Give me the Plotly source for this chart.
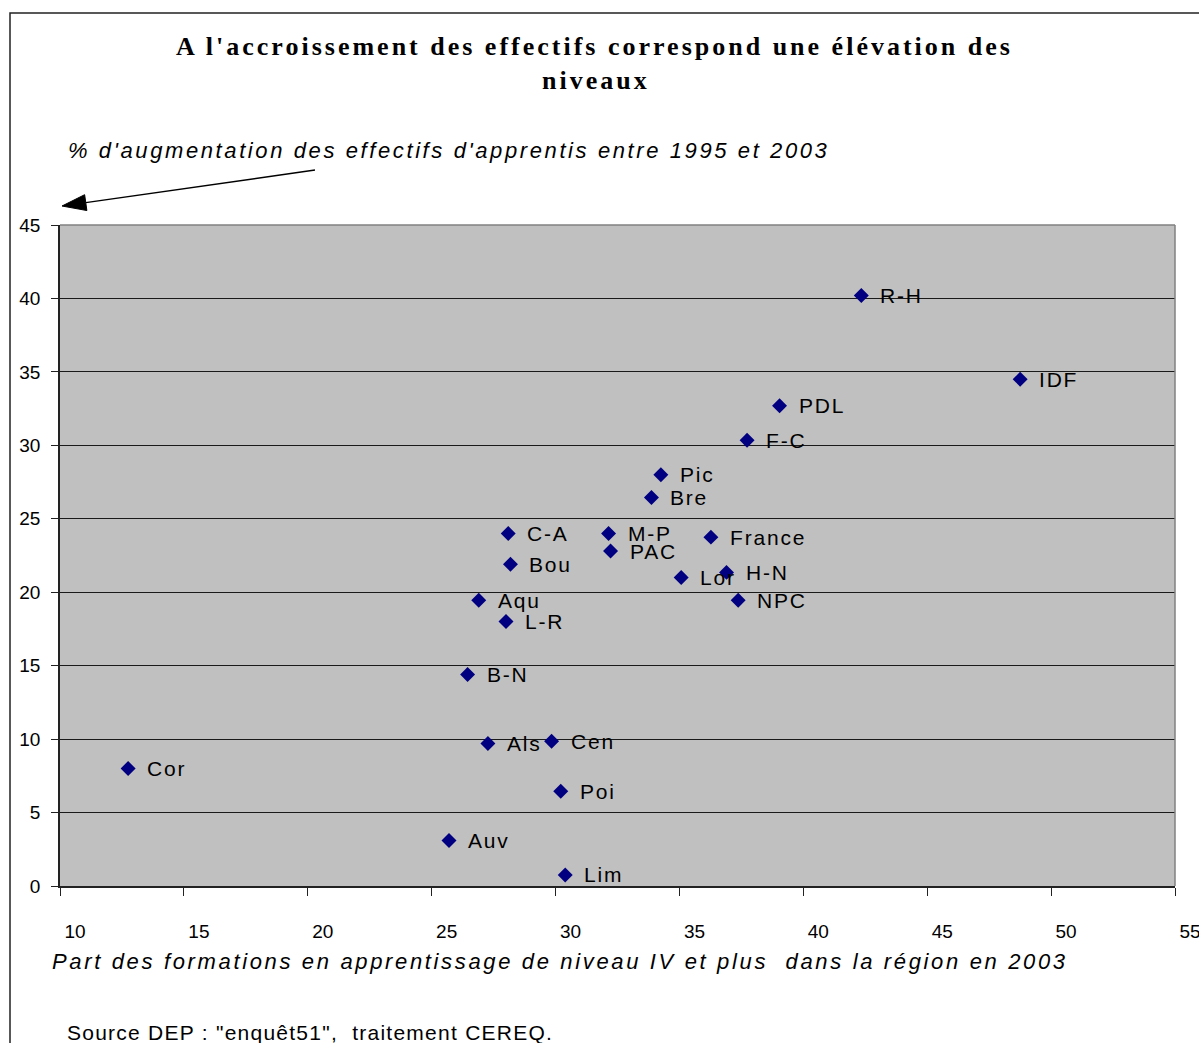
import plotly.graph_objects as go

# Regional apprenticeship data
regions = ["Cor", "Auv", "B-N", "Als", "Aqu", "L-R", "C-A", "Bou", "Cen", "Poi",
           "Lim", "M-P", "PAC", "Bre", "Pic", "Lor", "France", "H-N", "NPC",
           "F-C", "PDL", "R-H", "IDF"]
share_level_iv = [12.75, 25.7, 26.45, 27.27, 26.9, 28.0, 28.09, 28.18, 29.84, 30.21,
                  30.39, 32.14, 32.22, 33.87, 34.25, 35.07, 36.27, 36.9, 37.37,
                  37.73, 39.04, 42.34, 48.75]
growth_pct = [8.0, 3.1, 14.4, 9.7, 19.45, 18.0, 24.0, 21.9, 9.85, 6.45,
              0.75, 24.0, 22.8, 26.45, 28.0, 21.0, 23.75, 21.35, 19.45,
              30.35, 32.7, 40.2, 34.5]
x_ticks = [10, 15, 20, 25, 30, 35, 40, 45, 50, 55]
y_ticks = [0, 5, 10, 15, 20, 25, 30, 35, 40, 45]

W, H = 1199, 1043
L, T, PW, PH = 60, 225, 1115, 661
B, R = H - T - PH, W - L - PW

SANS = "Liberation Sans, Arial, sans-serif"
SERIF = "Liberation Serif, Times New Roman, serif"


def px_x(p):
    return (p - L) / PW


def px_y(p):
    return (T + PH - p) / PH


def spaced(text, ls):
    return f'<span style="letter-spacing:{ls}px">{text}</span>'


fig = go.Figure()
fig.add_trace(go.Scatter(
    x=share_level_iv, y=growth_pct, mode="markers",
    marker=dict(symbol="diamond", size=11.5, color="#000080",
                line=dict(width=0)),
    hoverinfo="skip", showlegend=False,
))

annotations = []
for name, xv, yv in zip(regions, share_level_iv, growth_pct):
    annotations.append(dict(
        x=xv, y=yv, xref="x", yref="y", text=spaced(name, 1.8),
        xanchor="left", yanchor="middle", xshift=17, showarrow=False,
        font=dict(family=SANS, size=21, color="black"),
    ))

# Title (two lines)
annotations.append(dict(
    x=px_x(594), y=px_y(46), xref="paper", yref="paper",
    text="<b>" + spaced("A l'accroissement des effectifs correspond une élévation des", 3.0) + "</b>",
    xanchor="center", yanchor="middle", showarrow=False,
    font=dict(family=SERIF, size=26, color="black"),
))
annotations.append(dict(
    x=px_x(596), y=px_y(80), xref="paper", yref="paper",
    text="<b>" + spaced("niveaux", 3.0) + "</b>",
    xanchor="center", yanchor="middle", showarrow=False,
    font=dict(family=SERIF, size=26, color="black"),
))
# Axis captions
annotations.append(dict(
    x=px_x(66), y=px_y(150), xref="paper", yref="paper",
    text="<i>" + spaced("% d'augmentation des effectifs d'apprentis entre 1995 et 2003", 2.6) + "</i>",
    xanchor="left", yanchor="middle", showarrow=False,
    font=dict(family=SANS, size=22, color="black"),
))
annotations.append(dict(
    x=px_x(50), y=px_y(961), xref="paper", yref="paper",
    text="<i>" + spaced("Part des formations en apprentissage de niveau IV et plus \u00a0dans la région en 2003", 2.65) + "</i>",
    xanchor="left", yanchor="middle", showarrow=False,
    font=dict(family=SANS, size=22, color="black"),
))
annotations.append(dict(
    x=px_x(65), y=px_y(1032), xref="paper", yref="paper",
    text=spaced('Source DEP : "enquêt51", \u00a0traitement CEREQ.', 1.25),
    xanchor="left", yanchor="middle", showarrow=False,
    font=dict(family=SANS, size=21, color="black"),
))

# Arrow pointing at the y axis
tip = (62, 206)
tail = (315, 170)
dx, dy = tip[0] - tail[0], tip[1] - tail[1]
ln = (dx * dx + dy * dy) ** 0.5
ux, uy = dx / ln, dy / ln
nx, ny = -uy, ux
head_len, head_half = 24, 8
bx, by = tip[0] - ux * head_len, tip[1] - uy * head_len
c1 = (bx + nx * head_half, by + ny * head_half)
c2 = (bx - nx * head_half, by - ny * head_half)

shapes = [
    # chart frame
    dict(type="rect", xref="paper", yref="paper",
         x0=px_x(10), x1=px_x(1215), y0=px_y(13), y1=px_y(1060),
         line=dict(color="#222222", width=1.5), fillcolor="rgba(0,0,0,0)",
         layer="below"),
    # plot-area top and right edges
    dict(type="line", xref="paper", yref="paper", x0=0, x1=1, y0=1, y1=1,
         line=dict(color="#808080", width=1.5), layer="above"),
    dict(type="line", xref="paper", yref="paper", x0=1, x1=1, y0=0, y1=1,
         line=dict(color="#808080", width=1.5), layer="above"),
    # arrow shaft and head
    dict(type="line", xref="paper", yref="paper",
         x0=px_x(tail[0]), y0=px_y(tail[1]), x1=px_x(bx), y1=px_y(by),
         line=dict(color="black", width=1.5)),
    dict(type="path", xref="paper", yref="paper",
         path=(f"M {px_x(tip[0])} {px_y(tip[1])} L {px_x(c1[0])} {px_y(c1[1])} "
               f"L {px_x(c2[0])} {px_y(c2[1])} Z"),
         fillcolor="black", line=dict(color="black", width=1)),
]

fig.update_layout(
    width=W, height=H,
    margin=dict(l=L, r=R, t=T, b=B, pad=0, autoexpand=False),
    paper_bgcolor="white", plot_bgcolor="#C0C0C0",
    font=dict(family=SANS, size=19, color="black"),
    annotations=annotations, shapes=shapes,
    showlegend=False,
)
fig.update_xaxes(
    range=[10, 55], tickvals=x_ticks, ticktext=[str(v) for v in x_ticks],
    showgrid=False, zeroline=False, automargin=False,
    showline=True, linecolor="#222222", linewidth=1.5,
    ticks="outside", ticklen=8, tickcolor="#222222", tickwidth=1,
    ticklabelstandoff=19, ticklabelshift=15, ticklabeloverflow="allow",
    tickfont=dict(family=SANS, size=19, color="black"),
)
fig.update_yaxes(
    range=[0, 45], tickvals=y_ticks, ticktext=[str(v) for v in y_ticks],
    showgrid=True, gridcolor="#1a1a1a", gridwidth=1, zeroline=False,
    automargin=False,
    showline=True, linecolor="#222222", linewidth=1.5,
    ticks="outside", ticklen=7, tickcolor="#222222", tickwidth=1,
    ticklabelstandoff=7,
    tickfont=dict(family=SANS, size=19, color="black"),
)

fig.write_html("out.html")
